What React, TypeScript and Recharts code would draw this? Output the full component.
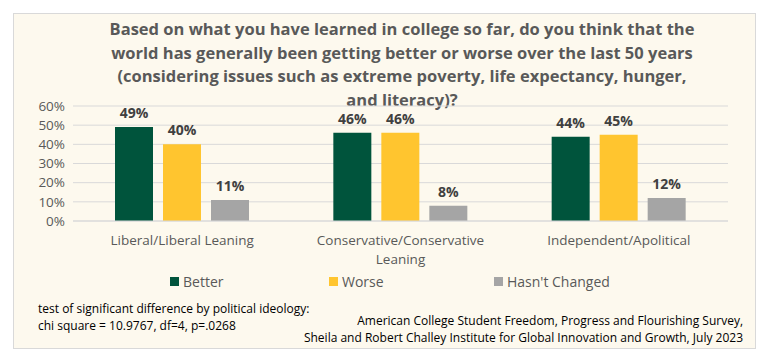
import React from "react";
import { BarChart, Bar, XAxis, YAxis, CartesianGrid, LabelList } from "recharts";

const categories = ["Liberal/Liberal Leaning", "Conservative/Conservative Leaning", "Independent/Apolitical"];
const better = [49, 46, 44];
const worse = [40, 46, 45];
const unchanged = [11, 8, 12];
const yTicks = [0, 10, 20, 30, 40, 50, 60];
const seriesNames = ["Better", "Worse", "Hasn't Changed"];
const seriesColors = ["#00543C", "#FFC52F", "#A5A5A5"];
const titleLines = [
  "Based on what you have learned in college so far, do you think that the",
  "world has generally been getting better or worse over the last 50 years",
  "(considering issues such as extreme poverty, life expectancy, hunger,",
  "and literacy)?",
];
const noteLeft = ["test of significant difference by political ideology:", "chi square = 10.9767, df=4, p=.0268"];
const noteRight = [
  "American College Student Freedom, Progress and Flourishing Survey,",
  "Sheila and Robert Challey Institute for Global Innovation and Growth, July 2023",
];

const data = categories.map((c, i) => ({ name: c, better: better[i], worse: worse[i], unchanged: unchanged[i] }));
const keys = ["better", "worse", "unchanged"];

const FONT = "'Open Sans', sans-serif";

const CatTick = (props: any) => {
  const { x, y, payload } = props;
  const v: string = payload.value;
  let lines = [v];
  if (v.length > 26) {
    const idx = v.lastIndexOf(" ");
    lines = [v.slice(0, idx), v.slice(idx + 1)];
  }
  return (
    <g>
      {lines.map((l, i) => (
        <text key={i} x={x} y={y + 16 + i * 19} textAnchor="middle" fill="#595959" fontSize={13.5} fontFamily={FONT}>
          {l}
        </text>
      ))}
    </g>
  );
};

export default function App() {
  const legendX = [170, 329, 494];
  return (
    <div style={{ position: "absolute", left: 0, top: 0, width: 772, height: 364, background: "#fff", fontFamily: FONT }}>
      <div
        style={{
          position: "absolute",
          left: 13,
          top: 13,
          width: 741,
          height: 334,
          background: "#FDF9EE",
          border: "1px solid #D9D9D9",
        }}
      />
      <div
        style={{
          position: "absolute",
          left: 102,
          width: 600,
          top: 17,
          textAlign: "center",
          fontWeight: 700,
          fontSize: 16.5,
          lineHeight: "23.5px",
          color: "#595959",
          whiteSpace: "nowrap",
        }}
      >
        {titleLines.map((l, i) => (
          <div key={i}>{l}</div>
        ))}
      </div>
      <div style={{ position: "absolute", left: 0, top: 0 }}>
        <BarChart
          width={772}
          height={364}
          data={data}
          margin={{ top: 106, right: 44, bottom: 103, left: 13 }}
          barSize={38}
          barGap={10}
        >
          <CartesianGrid vertical={false} stroke="#D9D9D9" />
          <XAxis
            dataKey="name"
            axisLine={{ stroke: "#D9D9D9" }}
            tickLine={false}
            tick={<CatTick />}
            interval={0}
            height={40}
          />
          <YAxis
            width={60}
            domain={[0, 60]}
            ticks={yTicks}
            interval={0}
            tickFormatter={(v: number) => `${v}%`}
            axisLine={false}
            tickLine={false}
            tick={{ fill: "#595959", fontSize: 13.5, fontFamily: FONT }}
            tickMargin={2}
          />
          {keys.map((k, i) => (
            <Bar key={k} dataKey={k} fill={seriesColors[i]} isAnimationActive={false}>
              <LabelList
                dataKey={k}
                position="top"
                offset={9}
                formatter={(v: any) => `${v}%`}
                style={{ fill: "#404040", fontSize: 14, fontWeight: 700, fontFamily: FONT }}
              />
            </Bar>
          ))}
        </BarChart>
      </div>
      {seriesNames.map((n, i) => (
        <div
          key={n}
          style={{
            position: "absolute",
            left: legendX[i],
            top: 271,
            height: 20,
            display: "flex",
            alignItems: "center",
            fontSize: 14,
            color: "#595959",
          }}
        >
          <span style={{ display: "inline-block", width: 9, height: 9, background: seriesColors[i], marginRight: 4 }} />
          <span>{n}</span>
        </div>
      ))}
      <div
        style={{
          position: "absolute",
          left: 38,
          top: 300,
          fontSize: 12,
          lineHeight: "17px",
          color: "#000",
          whiteSpace: "nowrap",
        }}
      >
        {noteLeft.map((l, i) => (
          <div key={i}>{l}</div>
        ))}
      </div>
      <div
        style={{
          position: "absolute",
          right: 772 - 743,
          top: 313,
          fontSize: 12,
          lineHeight: "16.5px",
          color: "#000",
          textAlign: "right",
          whiteSpace: "nowrap",
        }}
      >
        {noteRight.map((l, i) => (
          <div key={i}>{l}</div>
        ))}
      </div>
    </div>
  );
}
